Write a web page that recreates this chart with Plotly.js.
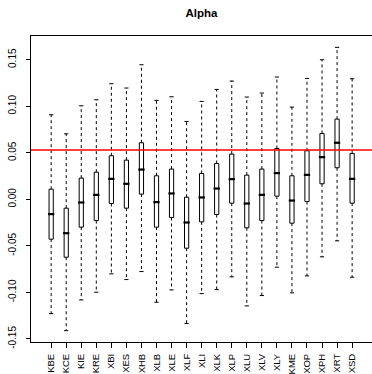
<!DOCTYPE html>
<html><head><meta charset="utf-8">
<script src="https://cdn.plot.ly/plotly-3.0.1.min.js"></script>
<style>html,body{margin:0;padding:0;background:#fff;overflow:hidden}</style>
</head><body><div id="chart" style="width:372px;height:374px"></div>
<script>
const categories = ['KBE','KCE','KIE','KRE','XBI','XES','XHB','XLB','XLE','XLF','XLI','XLK','XLP','XLU','XLV','XLY','KME','XOP','XPH','XRT','XSD'];
const upperWhisker = [0.0909,0.0704,0.1005,0.1070,0.1242,0.1196,0.1446,0.1063,0.1102,0.0837,0.1052,0.1181,0.1271,0.1099,0.1142,0.1314,0.0991,0.1299,0.1500,0.1633,0.1296];
const q3Values     = [0.0109,-0.0095,0.0228,0.0292,0.0468,0.0421,0.0608,0.0253,0.0325,0.0023,0.0278,0.0385,0.0486,0.0260,0.0325,0.0546,0.0253,0.0522,0.0708,0.0862,0.0493];
const medianValues = [-0.0159,-0.0364,-0.0034,0.0048,0.0220,0.0167,0.0320,-0.0030,0.0063,-0.0249,0.0020,0.0116,0.0217,-0.0045,0.0048,0.0282,-0.0013,0.0263,0.0453,0.0608,0.0220];
const q1Values     = [-0.0428,-0.0622,-0.0299,-0.0228,-0.0045,-0.0095,0.0056,-0.0299,-0.0195,-0.0525,-0.0242,-0.0163,-0.0041,-0.0306,-0.0228,0.0034,-0.0256,-0.0024,0.0167,0.0339,-0.0041];
const lowerWhisker = [-0.1228,-0.1411,-0.1081,-0.0998,-0.0801,-0.0862,-0.0776,-0.1106,-0.0973,-0.1335,-0.1013,-0.0970,-0.0833,-0.1145,-0.1034,-0.0729,-0.1005,-0.0823,-0.0618,-0.0446,-0.0837];
const referenceValue = 0.053;
const yTickValues = [-0.15,-0.10,-0.05,0,0.05,0.10,0.15];
const yTickLabels = ['-0.15','-0.10','-0.05','0.00','0.05','0.10','0.15'];
const chartTitle = 'Alpha';

const FONT = 'Liberation Sans, Arial, Helvetica, sans-serif';

const wx = [], wy = [];
categories.forEach((c, i) => {
  wx.push(c, c, c, c, c, c);
  wy.push(q3Values[i], upperWhisker[i], null, q1Values[i], lowerWhisker[i], null);
});

const traces = [
  {
    type: 'box', x: categories, q1: q1Values, median: medianValues, q3: q3Values,
    lowerfence: q1Values, upperfence: q3Values, width: 0.28,
    fillcolor: '#ffffff', line: {color: '#000000', width: 1},
    boxpoints: false, whiskerwidth: 0, hoverinfo: 'skip', showlegend: false
  },
  {
    type: 'scatter', mode: 'lines', x: wx, y: wy, connectgaps: false,
    line: {color: '#000000', width: 1, dash: '3px,3px'}, hoverinfo: 'skip', showlegend: false
  },
  {
    type: 'scatter', mode: 'markers', x: categories.concat(categories), y: upperWhisker.concat(lowerWhisker),
    marker: {symbol: 'line-ew', size: 3, line: {color: '#000000', width: 1}}, hoverinfo: 'skip', showlegend: false
  },
  {
    type: 'scatter', mode: 'markers', x: categories, y: medianValues,
    marker: {symbol: 'line-ew', size: 4.5, line: {color: '#000000', width: 2.2}}, hoverinfo: 'skip', showlegend: false
  }
];

const layout = {
  width: 372, height: 374,
  margin: {l: 31, r: 0, t: 36, b: 32, pad: 0},
  paper_bgcolor: '#ffffff', plot_bgcolor: '#ffffff',
  font: {family: FONT, size: 10, color: '#000000'},
  title: {text: '<b>' + chartTitle + '</b>', font: {family: FONT, size: 11.5, color: '#000000'},
          x: 0.5, xref: 'paper', y: 1 - 13/374, yref: 'container', yanchor: 'middle'},
  showlegend: false,
  xaxis: {
    type: 'category', range: [-1.34, 21.32], showline: true, mirror: true,
    linecolor: '#000000', linewidth: 1, ticks: 'outside', ticklen: 5, tickcolor: '#000000', tickwidth: 1,
    tickangle: -90, tickfont: {family: FONT, size: 9.5, color: '#000000'},
    showgrid: false, zeroline: false, fixedrange: true, ticklabelstandoff: 2
  },
  yaxis: {
    range: [-0.1533, 0.1755], tickmode: 'array', tickvals: yTickValues, ticktext: yTickLabels,
    showline: true, mirror: false, linecolor: '#000000', linewidth: 1,
    ticks: 'outside', ticklen: 4, tickcolor: '#000000', tickwidth: 1,
    tickangle: -90, tickfont: {family: FONT, size: 10, color: '#000000'},
    showgrid: false, zeroline: false, fixedrange: true, ticklabelstandoff: 6
  },
  shapes: [{
    type: 'line', xref: 'paper', x0: 0, x1: 1, yref: 'y', y0: referenceValue, y1: referenceValue,
    line: {color: '#ff0000', width: 1.5}, layer: 'above'
  }]
};

Plotly.newPlot('chart', traces, layout, {staticPlot: true, displayModeBar: false});
</script></body></html>
